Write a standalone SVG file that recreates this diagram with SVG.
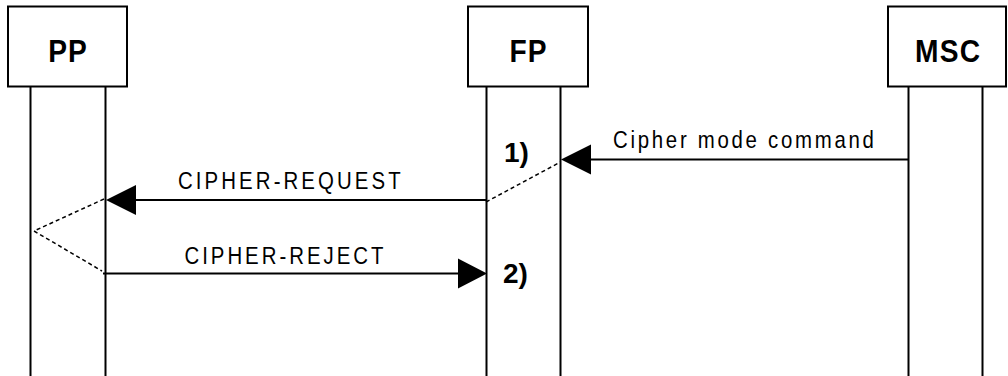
<svg xmlns="http://www.w3.org/2000/svg" width="1008" height="376" viewBox="0 0 1008 376">
<style>
.box{fill:#fff;stroke:#000;stroke-width:2}
.life{stroke:#000;stroke-width:2;fill:none}
.msg{stroke:#000;stroke-width:2;fill:none}
.dash{stroke:#000;stroke-width:1.5;fill:none;stroke-dasharray:4 3}
.head{fill:#000}
.name{font-family:"Liberation Sans",Arial,sans-serif;font-weight:bold;font-size:32px;text-anchor:middle}
.lbl{font-family:"Liberation Sans",Arial,sans-serif;font-size:24px}
.num{font-family:"Liberation Sans",Arial,sans-serif;font-weight:bold;font-size:28px}
</style>
<rect width="1008" height="376" fill="#fff"/>
<g id="PP">
<rect class="box" x="8" y="6.5" width="119" height="80"/>
<line class="life" x1="30.5" y1="86.5" x2="30.5" y2="376"/>
<line class="life" x1="105.5" y1="86.5" x2="105.5" y2="376"/>
<text class="name" transform="translate(67.5,62) scale(0.88,1)" textLength="44" lengthAdjust="spacing">PP</text>
</g>
<g id="FP">
<rect class="box" x="468" y="6.5" width="120" height="80"/>
<line class="life" x1="486.5" y1="86.5" x2="486.5" y2="376"/>
<line class="life" x1="560.5" y1="86.5" x2="560.5" y2="376"/>
<text class="name" transform="translate(528,62) scale(0.88,1)" textLength="42" lengthAdjust="spacing">FP</text>
</g>
<g id="MSC">
<rect class="box" x="888" y="6.5" width="118" height="80"/>
<line class="life" x1="908.5" y1="86.5" x2="908.5" y2="376"/>
<line class="life" x1="982.5" y1="86.5" x2="982.5" y2="376"/>
<text class="name" transform="translate(947.5,62) scale(0.88,1)" textLength="74" lengthAdjust="spacing">MSC</text>
</g>
<g id="connectors">
<line class="msg" x1="908.5" y1="159.5" x2="590" y2="159.5"/>
<polygon class="head" points="561,159.5 591,144.5 591,174.5"/>
<text class="lbl" transform="translate(613,148) scale(0.85,1)" textLength="307" lengthAdjust="spacing">Cipher mode command</text>
<line class="msg" x1="486.5" y1="200" x2="135" y2="200"/>
<polygon class="head" points="106,200 136,185 136,215"/>
<text class="lbl" transform="translate(178,189) scale(0.85,1)" textLength="262" lengthAdjust="spacing">CIPHER-REQUEST</text>
<line class="msg" x1="103" y1="273.5" x2="460" y2="273.5"/>
<polygon class="head" points="487,273.5 458,258.5 458,288.5"/>
<text class="lbl" transform="translate(184.5,264) scale(0.85,1)" textLength="234" lengthAdjust="spacing">CIPHER-REJECT</text>
<polyline class="dash" points="104,199 34,231 102,271"/>
<line class="dash" x1="486" y1="202" x2="560.5" y2="162"/>
<text class="num" x="504" y="162">1)</text>
<text class="num" x="503" y="283">2)</text>
</g>
</svg>
